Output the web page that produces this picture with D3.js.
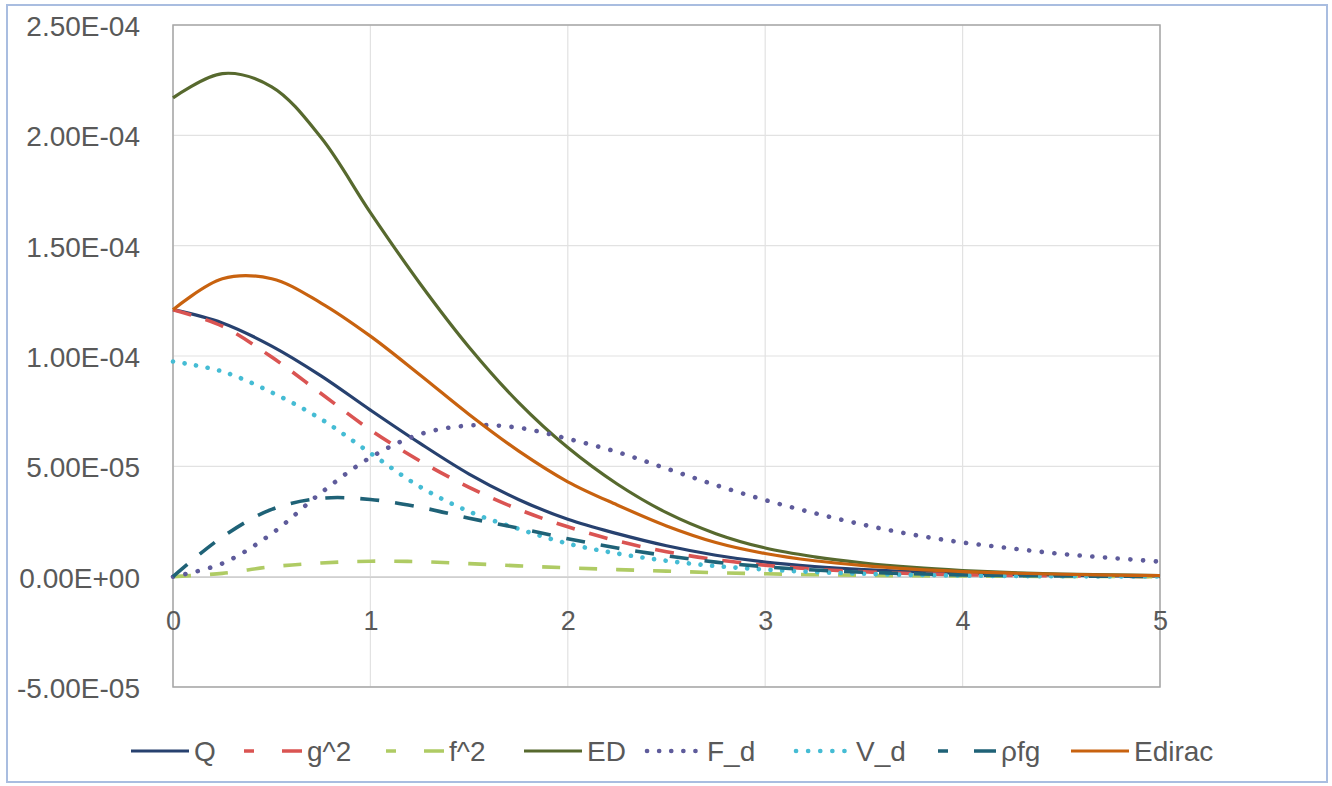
<!DOCTYPE html>
<html>
<head>
<meta charset="utf-8">
<script src="https://cdn.jsdelivr.net/npm/d3@7"></script>
<style>
  html, body { margin: 0; padding: 0; background: #fff; }
  svg { display: block; }
  text { font-family: "Liberation Sans", Arial, sans-serif; fill: #595959; }
</style>
</head>
<body>
<svg id="chart" width="1332" height="786"></svg>
<script>
// ---------- data (values in units of 1e-5) ----------
const xValues = [0, 0.25, 0.5, 0.75, 1, 1.25, 1.5, 1.75, 2, 2.25, 2.5, 2.75, 3, 3.25, 3.5, 3.75, 4, 4.25, 4.5, 4.75, 5];
const Q      = [12.1, 11.5, 10.45, 9.1, 7.55, 6.05, 4.65, 3.5, 2.6, 1.95, 1.4, 0.97, 0.66, 0.46, 0.32, 0.22, 0.15, 0.1, 0.07, 0.04, 0.03];
const g2     = [12.1, 11.35, 9.95, 8.3, 6.65, 5.25, 4.05, 3.05, 2.26, 1.62, 1.13, 0.77, 0.52, 0.34, 0.22, 0.14, 0.09, 0.06, 0.04, 0.02, 0.01];
const f2     = [0, 0.15, 0.45, 0.62, 0.7, 0.68, 0.59, 0.49, 0.4, 0.32, 0.25, 0.18, 0.13, 0.09, 0.06, 0.04, 0.03, 0.02, 0.01, 0.01, 0.0];
const ED     = [21.7, 22.8, 22.2, 19.9, 16.5, 13.3, 10.4, 7.9, 5.85, 4.2, 2.9, 1.95, 1.3, 0.9, 0.62, 0.42, 0.28, 0.18, 0.12, 0.08, 0.05];
const F_d    = [0, 0.6, 1.95, 3.8, 5.4, 6.45, 6.85, 6.75, 6.25, 5.65, 4.9, 4.15, 3.47, 2.88, 2.35, 1.9, 1.55, 1.28, 1.03, 0.85, 0.68];
const V_d    = [9.75, 9.3, 8.35, 7.14, 5.6, 4.08, 2.95, 2.17, 1.5, 1.05, 0.72, 0.48, 0.32, 0.21, 0.13, 0.08, 0.05, 0.03, 0.02, 0.01, 0.01];
const rho_fg = [0, 1.8, 3.05, 3.55, 3.5, 3.15, 2.65, 2.2, 1.72, 1.3, 0.95, 0.66, 0.45, 0.3, 0.2, 0.13, 0.08, 0.05, 0.03, 0.02, 0.01];
const Edirac = [12.1, 13.5, 13.5, 12.4, 10.9, 9.15, 7.35, 5.7, 4.3, 3.25, 2.3, 1.55, 1.05, 0.72, 0.5, 0.34, 0.23, 0.16, 0.11, 0.07, 0.05];
const valueScale = 1e-5;

const seriesNames = ["Q", "g^2", "f^2", "ED", "F_d", "V_d", "ρfg", "Edirac"];
const seriesValues = [Q, g2, f2, ED, F_d, V_d, rho_fg, Edirac];

const xTicks = [0, 1, 2, 3, 4, 5];
const xTickLabels = ["0", "1", "2", "3", "4", "5"];
const yTicks = [-5e-5, 0, 5e-5, 1e-4, 1.5e-4, 2e-4, 2.5e-4];
const yTickLabels = ["-5.00E-05", "0.00E+00", "5.00E-05", "1.00E-04", "1.50E-04", "2.00E-04", "2.50E-04"];

// ---------- styles ----------
const styles = [
  { color: "#27416F", dash: null, width: 3.2 },
  { color: "#DA5452", dash: "19,15", legendDash: "10,28,20", width: 3.6 },
  { color: "#AFCB64", dash: "18,19", legendDash: "10,28,20", width: 3.6 },
  { color: "#57692E", dash: null, width: 3.2 },
  { color: "#5E5B9B", dash: "0.1,12.6", legendDash: "0.1,12", width: 4.6, round: true },
  { color: "#45BCD4", dash: "0.1,11.6", legendDash: "0.1,12", width: 4.6, round: true },
  { color: "#1F6277", dash: "19,16", legendDash: "10,26,22", width: 3.6 },
  { color: "#C8620F", dash: null, width: 3.2 }
];

// ---------- layout ----------
const svg = d3.select("#chart");
const plot = { left: 173, right: 1160, top: 25, bottom: 687 };

svg.append("rect")
  .attr("x", 7).attr("y", 5).attr("width", 1320).attr("height", 777)
  .attr("fill", "#fff").attr("stroke", "#A9BDE0").attr("stroke-width", 2);

const x = d3.scaleLinear().domain([0, 5]).range([plot.left, plot.right]);
const y = d3.scaleLinear().domain([-5e-5, 2.5e-4]).range([plot.bottom, plot.top]);

// gridlines
const grid = svg.append("g");
grid.selectAll("line.h").data(yTicks).join("line")
  .attr("x1", plot.left).attr("x2", plot.right)
  .attr("y1", d => y(d)).attr("y2", d => y(d))
  .attr("stroke", "#E2E2E2").attr("stroke-width", 1.2);
grid.selectAll("line.v").data(xTicks).join("line")
  .attr("y1", plot.top).attr("y2", plot.bottom)
  .attr("x1", d => x(d)).attr("x2", d => x(d))
  .attr("stroke", "#E2E2E2").attr("stroke-width", 1.2);

// plot frame
svg.append("rect")
  .attr("x", plot.left).attr("y", plot.top)
  .attr("width", plot.right - plot.left).attr("height", plot.bottom - plot.top)
  .attr("fill", "none").attr("stroke", "#A6A6A6").attr("stroke-width", 1.5);

// x axis at y = 0
const xAxis = d3.axisBottom(x).tickValues(xTicks).tickFormat((d, i) => xTickLabels[i]).tickSize(0).tickPadding(0);
const xg = svg.append("g").attr("transform", `translate(0,${y(0)})`).call(xAxis);
xg.select(".domain").attr("stroke", "#D0D0D0").attr("stroke-width", 1.5);
xg.selectAll("text").attr("font-size", 27).attr("fill", "#595959")
  .attr("font-family", "Liberation Sans, Arial, sans-serif")
  .attr("dy", null).attr("y", 53);

// y axis labels
const yAxis = d3.axisLeft(y).tickValues(yTicks).tickFormat((d, i) => yTickLabels[i]).tickSize(0).tickPadding(0);
const yg = svg.append("g").attr("transform", `translate(140,0)`).call(yAxis);
yg.select(".domain").remove();
yg.selectAll("text").attr("font-size", 28).attr("fill", "#595959")
  .attr("font-family", "Liberation Sans, Arial, sans-serif")
  .attr("dy", "0.38em");

// series lines
const line = d3.line()
  .x((d, i) => x(xValues[i]))
  .y(d => y(d * valueScale))
  .curve(d3.curveCatmullRom.alpha(0.5));

const linesG = svg.append("g");
seriesValues.forEach((vals, k) => {
  const s = styles[k];
  const p = linesG.append("path").datum(vals)
    .attr("d", line)
    .attr("fill", "none")
    .attr("stroke", s.color)
    .attr("stroke-width", s.width)
    .attr("stroke-linejoin", "round");
  if (s.dash) p.attr("stroke-dasharray", s.dash);
  if (s.round) p.attr("stroke-linecap", "round");
});

// legend
const legendX = [131, 244, 386, 524, 644, 793, 938, 1071];
const legendLen = 58;
const legendY = 751;
const lg = svg.append("g");
seriesNames.forEach((name, k) => {
  const s = styles[k];
  const l = lg.append("line")
    .attr("x1", legendX[k] + (s.round ? 3 : 0)).attr("x2", legendX[k] + legendLen)
    .attr("y1", legendY).attr("y2", legendY)
    .attr("stroke", s.color).attr("stroke-width", s.width);
  if (s.legendDash) l.attr("stroke-dasharray", s.legendDash);
  if (s.round) l.attr("stroke-linecap", "round");
  lg.append("text")
    .attr("x", legendX[k] + legendLen + 5).attr("y", legendY)
    .attr("dy", "0.36em")
    .attr("font-size", 28)
    .text(name);
});
</script>
</body>
</html>
